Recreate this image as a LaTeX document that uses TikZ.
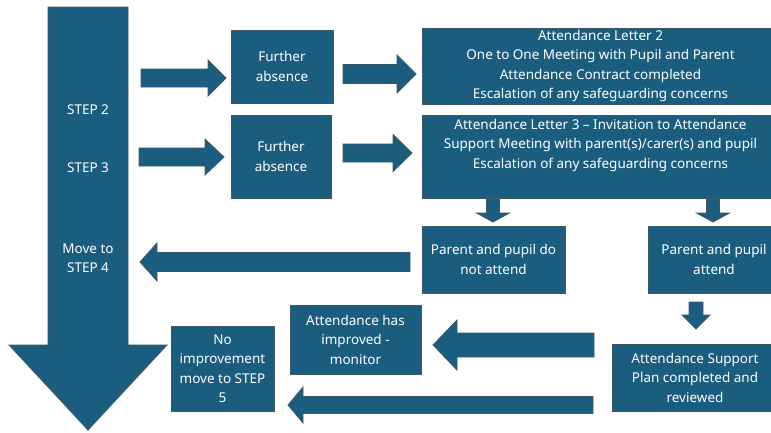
\documentclass[tikz,border=0pt]{standalone}
\usepackage{fontspec}
\setmainfont{Noto Sans}
\usetikzlibrary{calc}
\definecolor{stepblue}{HTML}{1A5D7F}
\definecolor{stepedge}{HTML}{3F5868}
\tikzset{
 box/.style={draw=stepedge,fill=stepblue,line width=0.8pt,text=white,align=center,
  inner sep=0pt,font=\fontsize{13.5}{19.5}\selectfont},
 steptext/.style={text=white,align=center,font=\fontsize{13.5}{19.5}\selectfont},
 blk/.style={draw=stepedge,fill=stepblue,line width=0.8pt},
}
% tail, tip, shaft half width, head half width, head length
\newcommand{\blockarrow}[5]{%
  \coordinate (#1-base) at ($(#2)!#5!(#1)$);
  \draw[blk] ($(#1)!#3!90:(#2)$) -- ($(#1-base)!#3!90:(#2)$)
    -- ($(#1-base)!#4!90:(#2)$) -- (#2)
    -- ($(#1-base)!#4!-90:(#2)$) -- ($(#1-base)!#3!-90:(#2)$)
    -- ($(#1)!#3!-90:(#2)$) -- cycle;
}

\begin{document}
\begin{tikzpicture}[x=1pt,y=-1pt]
    \useasboundingbox[fill=white] (0,0) rectangle (771,432);
    \clip (0,0) rectangle (771,432);

    \coordinate (bigt) at (88,7);
    \coordinate (bigh) at (88,430);
    \blockarrow{bigt}{bigh}{40pt}{79pt}{85pt}
    \node[steptext] (s2) at (88,110) {STEP 2};
    \node[steptext] (s3) at (88,168) {STEP 3};
    \node[steptext] (s4) at (88,258) {Move to\\STEP 4};

    \node[box,minimum width=102pt,minimum height=73pt] (fa1) at (282,66.5) {Further\\absence};
    \node[box,minimum width=100pt,minimum height=83pt] (fa2) at (281,156.5) {Further\\absence};
    \node[box,minimum width=357pt,minimum height=76pt] (let2) at (600.5,66)
        {Attendance Letter 2\\One to One Meeting with Pupil and Parent\\Attendance Contract completed\\Escalation of any safeguarding concerns};
    \node[box,minimum width=357pt,minimum height=83pt] (let3) at (600.5,156.5)
        {Attendance Letter 3 -- Invitation to Attendance\\Support Meeting with parent(s)/carer(s) and pupil\\Escalation of any safeguarding concerns\\\strut};
    \node[box,minimum width=143pt,minimum height=67pt] (noatt) at (493.5,259.5) {Parent and pupil do\\not attend};
    \node[box,minimum width=132pt,minimum height=67pt] (att) at (714,259.5) {Parent and pupil\\attend};
    \node[box,minimum width=166pt,minimum height=67pt] (plan) at (695,377.5) {Attendance Support\\Plan completed and\\reviewed};
    \node[box,minimum width=131pt,minimum height=69pt] (impr) at (355.5,339.5) {Attendance has\\improved -\\monitor};
    \node[box,minimum width=103pt,minimum height=85pt] (noimpr) at (222.5,368.5) {No\\improvement\\move to STEP\\5};

    \coordinate (a1t) at (141,78);   \coordinate (a1h) at (226,78);
    \coordinate (a2t) at (343,74);   \coordinate (a2h) at (416,74);
    \coordinate (a3t) at (139,157);  \coordinate (a3h) at (224,157);
    \coordinate (a4t) at (343,153);  \coordinate (a4h) at (412,153);
    \coordinate (d1t) at (493,199);  \coordinate (d1h) at (493,222);
    \coordinate (d2t) at (713,199);  \coordinate (d2h) at (713,222);
    \coordinate (d3t) at (696,302);  \coordinate (d3h) at (696,329);
    \coordinate (l1t) at (410,262);  \coordinate (l1h) at (140,262);
    \coordinate (l2t) at (594,345);  \coordinate (l2h) at (433,345);
    \coordinate (l3t) at (593,405);  \coordinate (l3h) at (288,405);
    \blockarrow{a1t}{a1h}{9pt}{18pt}{18pt}
    \blockarrow{a2t}{a2h}{9.5pt}{19pt}{19pt}
    \blockarrow{a3t}{a3h}{9pt}{18pt}{19pt}
    \blockarrow{a4t}{a4h}{9pt}{18.5pt}{19pt}
    \blockarrow{d1t}{d1h}{6.5pt}{16.5pt}{9pt}
    \blockarrow{d2t}{d2h}{6.5pt}{16.5pt}{9pt}
    \blockarrow{d3t}{d3h}{7pt}{14pt}{14pt}
    \blockarrow{l1t}{l1h}{9.5pt}{19pt}{17pt}
    \blockarrow{l2t}{l2h}{12pt}{25pt}{24pt}
    \blockarrow{l3t}{l3h}{8.5pt}{18pt}{15pt}
\end{tikzpicture}
\end{document}
